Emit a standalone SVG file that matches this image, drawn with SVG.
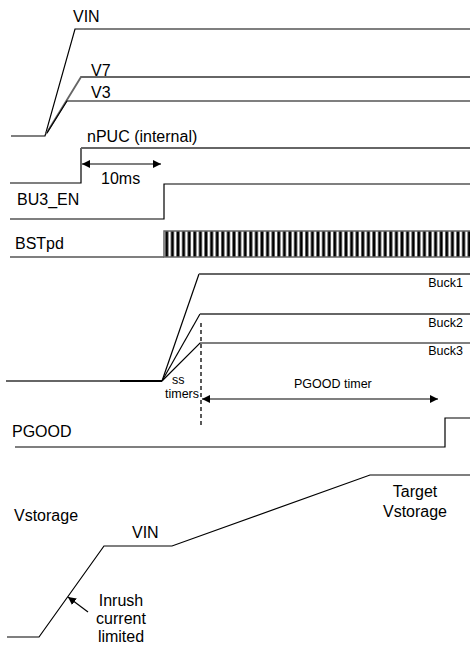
<svg xmlns="http://www.w3.org/2000/svg" width="470" height="647" viewBox="0 0 470 647">
<style>
.w{fill:none;stroke:#000;stroke-width:1.2}
.g{fill:none;stroke:#666;stroke-width:1.8}
.t{font-family:"Liberation Sans",Arial,sans-serif;font-size:16px;fill:#000}
.s{font-family:"Liberation Sans",Arial,sans-serif;font-size:12.5px;fill:#000}
.a{fill:none;stroke:#000;stroke-width:1.2}
.d{fill:none;stroke:#000;stroke-width:1.3;stroke-dasharray:4,3}
</style>
<defs>
<marker id="ah" viewBox="0 0 8 8" refX="8" refY="4" markerWidth="8" markerHeight="8" markerUnits="userSpaceOnUse" orient="auto-start-reverse">
<path d="M0,0 L8,4 L0,8 Z" fill="#000"/>
</marker>
<pattern id="stripes" patternUnits="userSpaceOnUse" x="164" y="0" width="5.6" height="10">
<rect x="1.3" y="0" width="3" height="10" fill="#000"/>
</pattern>
</defs>
<g id="vin">
<text class="t" x="73" y="22">VIN</text>
<polyline class="w" points="11,136 45,136 75,29 470,29"/>
</g>
<g id="v7">
<text class="t" x="91" y="76">V7</text>
<polyline class="g" points="46,134 81,77 470,77"/>
</g>
<g id="v3">
<text class="t" x="91" y="98">V3</text>
<polyline class="w" points="47,133 67,101 470,101"/>
</g>
<g id="npuc">
<text class="t" x="87" y="142">nPUC (internal)</text>
<polyline class="w" points="10,183 81,183 81,148"/>
<line class="g" x1="81" y1="148" x2="470" y2="148"/>
</g>
<g id="bu3en">
<text class="t" x="17" y="205">BU3_EN</text>
<polyline class="w" points="10,219 164,219 164,184 470,184"/>
</g>
<g id="bstpd">
<text class="t" x="15" y="249">BSTpd</text>
<line class="w" x1="10" y1="257" x2="164" y2="257"/>
<rect x="164" y="231" width="308" height="26" fill="#fff"/>
<rect x="164" y="231" width="308" height="26" fill="url(#stripes)" stroke="#666" stroke-width="1.5"/>
</g>
<g id="bucks">
<line class="g" x1="6" y1="381" x2="120" y2="381"/>
<line class="w" x1="120" y1="381" x2="162" y2="381" style="stroke-width:1.8"/>
<polyline class="w" points="162,381 199,274"/>
<line class="g" x1="199" y1="274" x2="470" y2="274"/>
<polyline class="w" points="162,381 200,314"/>
<line class="g" x1="200" y1="314" x2="470" y2="314"/>
<polyline class="w" points="162,381 200,343 470,343"/>
<text class="s" x="463" y="287" text-anchor="end">Buck1</text>
<text class="s" x="463" y="327" text-anchor="end">Buck2</text>
<text class="s" x="463" y="355" text-anchor="end">Buck3</text>
<text class="s" x="172" y="384">ss</text>
<text class="s" x="165" y="398">timers</text>
</g>
<g id="pgood">
<text class="t" x="12" y="437">PGOOD</text>
<polyline class="w" points="15,447 445,447 445,418 470,418"/>
</g>
<g id="vstorage">
<text class="t" x="14" y="521">Vstorage</text>
<polyline class="w" points="7,637 39,637 104,546 172,546 370,475 470,475"/>
<text class="t" x="132" y="538">VIN</text>
<text class="t" x="415" y="497" text-anchor="middle">Target</text>
<text class="t" x="415" y="517" text-anchor="middle">Vstorage</text>
<text class="t" x="121" y="606" text-anchor="middle">Inrush</text>
<text class="t" x="121" y="624" text-anchor="middle">current</text>
<text class="t" x="121" y="642" text-anchor="middle">limited</text>
</g>
<g id="connectors">
<line class="a" x1="82" y1="164" x2="161" y2="164" marker-start="url(#ah)" marker-end="url(#ah)"/>
<text class="t" x="101" y="184">10ms</text>
<line class="d" x1="201" y1="323" x2="201" y2="428"/>
<line class="a" x1="202" y1="399" x2="438" y2="399" marker-start="url(#ah)" marker-end="url(#ah)"/>
<text class="s" x="294" y="388">PGOOD timer</text>
<line class="a" x1="88" y1="612" x2="68" y2="597" marker-end="url(#ah)"/>
</g>
</svg>
